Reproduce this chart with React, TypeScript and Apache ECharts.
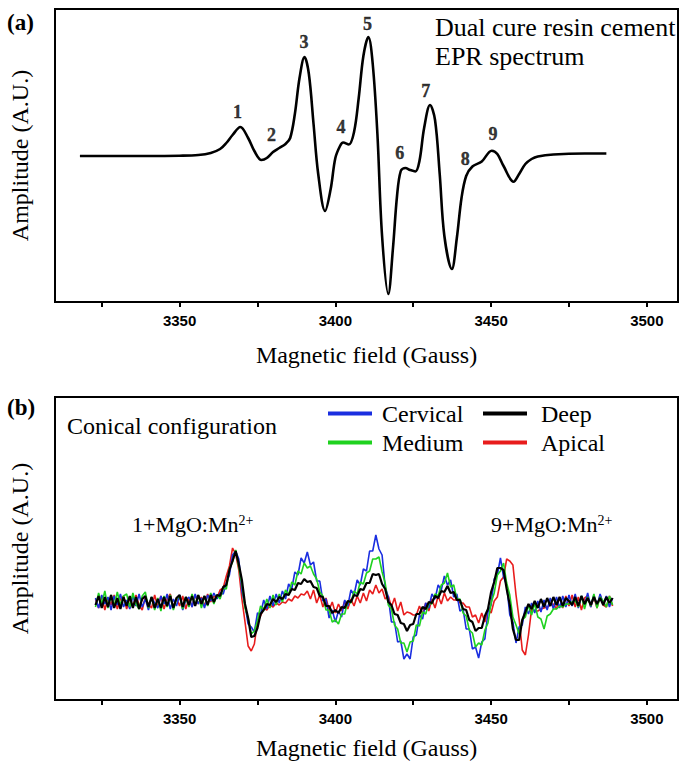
import React, { useEffect, useRef } from "react";
import * as echarts from "echarts";

// ---------- Panel (a): dual cure resin cement EPR spectrum ----------
const fieldA = [
  3318, 3330, 3340, 3350, 3356, 3360, 3363, 3365, 3367, 3369.5, 3372, 3374, 3376.3, 3378, 3380, 3382,
  3384, 3385.5, 3387, 3388.5, 3390.1, 3391.5, 3393, 3394.5, 3396.7, 3398.5, 3400, 3401.5, 3402.5,
  3404.3, 3406, 3407.5, 3409, 3410.6, 3412, 3413.5, 3415, 3417, 3418.5, 3419.8, 3421, 3422.5, 3424,
  3425.7, 3427, 3428.5, 3430.4, 3432, 3433.5, 3435, 3437.4, 3439, 3440.5, 3442, 3444, 3447, 3450.2,
  3452, 3454, 3457.2, 3459, 3461, 3463, 3465, 3470, 3480, 3487,
];
const ampA = [
  0, 0, 0, 0.3, 1, 3, 7, 13, 21, 29, 18, 5, -4, -2, 4, 8,
  12, 18, 42, 78, 99, 82, 32, -18, -55, -33, -2, 10, 13.5,
  11.5, 24, 58, 100, 119, 92, 22, -80, -138, -92, -40, -15, -12, -14,
  -15.5, -5, 28, 51, 36, -18, -80, -113, -82, -42, -20, -10.5, -5.5, 5.3,
  2, -10, -25.7, -18, -8, -3, -0.5, 1.5, 2.5, 2.5,
];
const peakNames = ["1", "2", "3", "4", "5", "6", "7", "8", "9"];
const peakLabelField = [3368.6, 3379.5, 3389.9, 3401.8, 3410.3, 3420.7, 3429.0, 3441.7, 3450.6];
const peakLabelAmp = [44, 21, 114, 29, 132, 3, 65, -3, 22];

// ---------- Panel (b): conical configuration ----------
const fieldStartB = 3323;
const fieldStepB = 1;
const cervical = [
  4, -6, 7, -2, 5, -8, 6, -3, 8, -5,
  2, -7, 6, -4, 8, -5, 3, -8, 5, -1,
  -6, 6, -2, 8, -7, 3, -4, 7, -8, 2,
  5, -5, 8, -2, 4, -6, 7, 1, 9, 3,
  9, 8, 19, 27, 47, 51, 43, 11, -3, -22,
  -25, -30, -11, -12, 2, -7, 6, -4, 8, -1,
  11, 3, 18, 13, 30, 27, 44, 39, 50, 37,
  40, 21, 21, 1, 3, -16, -8, -20, -9, -15,
  2, -4, 12, 7, 22, 17, 33, 31, 51, 51,
  67, 53, 47, 15, 5, -20, -20, -40, -39, -57,
  -52, -57, -35, -33, -13, -17, -1, -6, 8, 3,
  17, 12, 26, 17, 22, 5, 8, -9, -7, -27,
  -27, -47, -45, -56, -40, -37, -10, -3, 23, 27,
  44, 25, 17, -13, -20, -41, -25, -23, -5, -12,
  -1, -11, 1, -10, 2, -8, 4, -7, 5, -6,
  6, -5, 7, -4, 8, -6, 6, -3, 9, -5,
  7, -4, 8, -2, 6, -5, 4,
];
const medium = [
  -5, 9, -2, 11, -6, 7, -4, 10, -3, 6,
  8, -5, 9, -2, -7, 6, 10, -6, 5, -8,
  4, -9, 6, -5, 7, -8, 3, 6, -7, 5,
  -5, 8, -3, 7, -6, 6, -4, 9, -2, 7,
  3, 14, 13, 33, 40, 52, 35, 18, -6, -16,
  -32, -29, -19, -4, -8, 3, -6, 7, -3, 8,
  0, 12, 7, 20, 17, 31, 28, 39, 34, 36,
  28, 23, 10, 6, -8, -8, -20, -18, -22, -12,
  -12, 1, -1, 11, 8, 20, 18, 29, 31, 43,
  43, 45, 30, 19, -3, -7, -23, -27, -41, -41,
  -50, -40, -39, -23, -24, -10, -12, -1, -2, 8,
  6, 17, 19, 29, 15, 17, 3, 3, -11, -14,
  -28, -31, -45, -41, -43, -28, -21, -1, 9, 27,
  31, 39, 19, 7, -15, -23, -32, -18, -15, -3,
  -13, -1, -15, -17, -27, -14, -12, -7, -7, -4,
  -5, -2, -2, 0, 1, -5, 6, -7, 5, -4,
  8, -6, 5, 1, -5, 6, -3,
];
const deep = [
  -3, 6, -6, 5, -5, 7, -6, 4, -7, 5,
  -4, 6, -6, 5, -7, 3, 6, -5, 5, -6,
  3, -6, 5, -4, 6, -6, 4, 7, -5, 5,
  -3, 6, -4, 7, -2, 6, -3, 7, 0, 7,
  6, 15, 17, 32, 41, 51, 38, 22, -2, -16,
  -35, -34, -26, -12, -8, -2, -3, 3, 0, 5,
  3, 8, 7, 13, 12, 19, 18, 23, 20, 21,
  15, 14, 6, 5, -4, -4, -11, -8, -11, -5,
  -6, 1, 0, 7, 6, 13, 12, 19, 19, 28,
  27, 28, 18, 13, 0, -3, -12, -13, -21, -22,
  -29, -23, -22, -12, -12, -5, -7, 0, -1, 6,
  4, 11, 10, 16, 9, 10, 2, 2, -7, -8,
  -18, -20, -29, -26, -26, -14, -7, 10, 20, 34,
  34, 32, 13, -3, -27, -38, -38, -18, -10, -2,
  -7, 1, -6, 3, -5, 4, -4, 5, -3, 5,
  -4, 4, 1, -3, 5, -4, 6, -2, 4, -3,
  5, -2, 4, -3, 5, -1, 4,
];
const apical = [
  3, -6, 6, -8, 4, -3, 7, -7, 3, 6,
  -7, 4, -5, 7, -3, -8, 5, -2, -6, 7,
  -5, 6, -7, 3, 8, -6, 4, -4, 6, -7,
  4, -5, 7, -2, 5, -4, 8, 0, 6, 4,
  12, 14, 26, 36, 54, 48, 32, 3, -20, -44,
  -49, -42, -20, -14, -6, -8, -3, -5, -1, -3,
  0, -1, 3, 1, 6, 4, 8, 7, 11, 3,
  12, -1, 7, -5, 4, -8, 0, -11, -2, -9,
  1, -7, 3, -4, 6, -1, 9, 1, 12, 8,
  17, 9, 13, 3, 6, -5, 4, -9, 0, -13,
  -10, -11, -13, -13, -4, -12, -1, -9, 3, -6,
  6, -2, 9, 1, 5, 2, 2, -1, -1, -5,
  -5, -15, -13, -21, -11, -20, -7, -11, 1, 5,
  21, 25, 43, 41, 37, 7, -17, -48, -53, -33,
  -7, -9, -9, -7, -6, -5, -3, -2, -7, 5,
  -6, 6, -4, 7, -5, 5, -8, 4, 6, -5,
  5, -6, 7, -3, -5, 6, -4,
];

const tickValues = [3325, 3350, 3375, 3400, 3425, 3450, 3475, 3500];
const labelValues = [3350, 3400, 3450, 3500];

const SERIF = "Liberation Serif, serif";
const SANS = "Liberation Sans, Arial, sans-serif";

const COLORS: Record<string, string> = {
  Cervical: "#1a2ee0",
  Medium: "#1fd21f",
  Deep: "#000000",
  Apical: "#e81c1c",
};

function toPairsB(vals: number[]) {
  return vals.map((v, i) => [fieldStartB + i * fieldStepB, v]);
}

function xAxisCfg(gridIndex: number, nameGap: number) {
  return {
    type: "value",
    gridIndex,
    min: 3310,
    max: 3510,
    name: "Magnetic field (Gauss)",
    nameLocation: "middle",
    nameGap,
    nameTextStyle: { fontFamily: SERIF, fontSize: 24, color: "#000" },
    axisLine: { show: true, onZero: false, lineStyle: { color: "#000", width: 2 } },
    axisTick: {
      show: true,
      customValues: tickValues,
      length: 5,
      inside: false,
      lineStyle: { color: "#000", width: 2 },
    },
    axisLabel: {
      show: true,
      customValues: labelValues,
      formatter: (v: number) => String(v),
      margin: 11,
      fontFamily: SANS,
      fontWeight: "bold",
      fontSize: 15,
      color: "#000",
    },
    splitLine: { show: false },
  };
}

function yAxisCfg(gridIndex: number, min: number, max: number) {
  return {
    type: "value",
    gridIndex,
    min,
    max,
    name: "Amplitude (A.U.)",
    nameLocation: "middle",
    nameGap: 23,
    nameTextStyle: { fontFamily: SERIF, fontSize: 24, color: "#000" },
    axisLine: { show: false },
    axisTick: { show: false },
    axisLabel: { show: false },
    splitLine: { show: false },
  };
}

export default function App() {
  const ref = useRef<HTMLDivElement>(null);

  useEffect(() => {
    if (!ref.current) return;
    const chart = echarts.init(ref.current, null, { renderer: "svg" });

    const curveA = fieldA.map((g, i) => [g, ampA[i]]);
    const peakData = peakNames.map((n, i) => ({ value: [peakLabelField[i], peakLabelAmp[i]], name: n }));

    const bSeries = [
      { name: "Apical", data: apical, w: 1.6 },
      { name: "Cervical", data: cervical, w: 1.6 },
      { name: "Medium", data: medium, w: 1.6 },
      { name: "Deep", data: deep, w: 2.2 },
    ].map((s) => ({
      type: "line",
      name: s.name,
      xAxisIndex: 1,
      yAxisIndex: 1,
      data: toPairsB(s.data),
      showSymbol: false,
      symbol: "none",
      lineStyle: { color: COLORS[s.name], width: s.w },
      itemStyle: { color: COLORS[s.name] },
      z: 2,
    }));

    const legendBase = {
      orient: "vertical",
      top: 399,
      itemWidth: 44,
      itemHeight: 4,
      itemGap: 0,
      padding: 0,
      icon: "rect",
      selectedMode: false,
    };

    chart.setOption({
      animation: false,
      backgroundColor: "#ffffff",
      grid: [
        { left: 52, top: 9, width: 626, height: 293, show: true, borderColor: "#000", borderWidth: 2, containLabel: false },
        { left: 51, top: 397, width: 627, height: 303, show: true, borderColor: "#000", borderWidth: 2, containLabel: false },
      ],
      xAxis: [xAxisCfg(0, 41), xAxisCfg(1, 36)],
      yAxis: [yAxisCfg(0, -146, 147), yAxisCfg(1, -98, 205)],
      legend: [
        {
          ...legendBase,
          left: 328,
          data: ["Cervical", "Medium"],
          textStyle: { fontFamily: SERIF, fontSize: 24, color: "#000", lineHeight: 29, padding: [0, 0, 0, 5] },
        },
        {
          ...legendBase,
          left: 483,
          data: ["Deep", "Apical"],
          textStyle: { fontFamily: SERIF, fontSize: 24, color: "#000", lineHeight: 29, padding: [0, 0, 0, 9] },
        },
      ],
      series: [
        {
          type: "line",
          name: "EPR",
          xAxisIndex: 0,
          yAxisIndex: 0,
          data: curveA,
          smooth: 0.35,
          showSymbol: false,
          symbol: "none",
          lineStyle: { color: "#000", width: 2.6 },
        },
        {
          type: "scatter",
          name: "peaks",
          xAxisIndex: 0,
          yAxisIndex: 0,
          data: peakData,
          symbolSize: 0,
          itemStyle: { color: "transparent" },
          label: {
            show: true,
            position: "inside",
            formatter: (p: any) => p.name,
            fontFamily: SERIF,
            fontWeight: "bold",
            fontSize: 18,
            color: "#000",
            textBorderColor: "#000",
            textBorderWidth: 0.4,
          },
          z: 5,
        },
        ...bSeries,
      ],
      graphic: [
        { type: "text", left: 7, top: 11, style: { text: "(a)", fontFamily: SERIF, fontWeight: "bold", fontSize: 23, fill: "#000" } },
        { type: "text", left: 7, top: 396, style: { text: "(b)", fontFamily: SERIF, fontWeight: "bold", fontSize: 23, fill: "#000" } },
        { type: "text", left: 435, top: 14, style: { text: "Dual cure resin cement", fontFamily: SERIF, fontSize: 26, fill: "#000" } },
        { type: "text", left: 435, top: 43, style: { text: "EPR spectrum", fontFamily: SERIF, fontSize: 26, fill: "#000" } },
        { type: "text", left: 67, top: 414, style: { text: "Conical configuration", fontFamily: SERIF, fontSize: 24, fill: "#000" } },
        {
          type: "text",
          left: 132,
          top: 513,
          style: {
            text: "{a|1+MgO:Mn}{s|2+}",
            rich: {
              a: { fontFamily: SERIF, fontSize: 22, fill: "#000", color: "#000" },
              s: { fontFamily: SERIF, fontSize: 14, fill: "#000", color: "#000", verticalAlign: "top" },
            },
          },
        },
        {
          type: "text",
          left: 491,
          top: 513,
          style: {
            text: "{a|9+MgO:Mn}{s|2+}",
            rich: {
              a: { fontFamily: SERIF, fontSize: 22, fill: "#000", color: "#000" },
              s: { fontFamily: SERIF, fontSize: 14, fill: "#000", color: "#000", verticalAlign: "top" },
            },
          },
        },
      ],
    });

    return () => chart.dispose();
  }, []);

  return (
    <div
      ref={ref}
      style={{ position: "absolute", left: 0, top: 0, width: 680, height: 767, background: "#fff" }}
    />
  );
}
